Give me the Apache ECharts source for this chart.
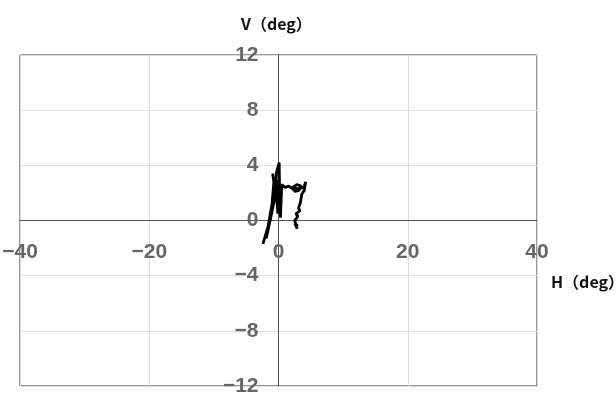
<!DOCTYPE html>
<html><head><meta charset="utf-8">
<script src="https://cdn.jsdelivr.net/npm/echarts@6/dist/echarts.min.js"></script>
<style>html,body{margin:0;padding:0;background:#fff}#c{width:616px;height:394px}</style>
</head><body><div id="c"></div>
<script>
const hValues = [-2.4,-1.6,-1.0,-0.7,-0.9,-0.5,-1.9,-1.2,-0.5,-0.3,0.1,0.2,-0.1,-0.4,-0.8,0.0,0.3,0.5,1.0,1.6,2.2,2.6,3.2,3.5,2.8,2.2,3.0,3.9,4.2,4.0,3.6,3.4,3.1,3.3,2.7,3.0,2.5,2.4,2.9,2.8,2.5,3.0];
const vValues = [-1.7,-0.4,1.2,2.9,3.4,2.0,-1.3,0.2,1.8,3.5,4.2,1.5,0.5,2.6,3.0,2.8,0.2,2.6,2.4,2.5,2.3,2.1,2.2,2.5,2.6,2.4,2.3,2.4,2.8,2.2,1.9,1.3,0.9,0.7,0.5,0.3,0.0,-0.1,-0.6,-0.7,-0.2,-0.4];
const xTicks = {min:-40, max:40, step:20};
const yTicks = {min:-12, max:12, step:4};
const xName = 'H（deg）';
const yName = 'V（deg）';

const pts = hValues.map((h,i)=>[h, vValues[i]]);
const minus = v => (v < 0 ? '\u2212' + Math.abs(v) : String(v));
const labelStyle = {color:'#666', fontSize:21, fontWeight:'bold', fontFamily:'"Liberation Sans Narrow", "Liberation Sans", Arial, sans-serif'};
const nameFont = 'bold 16px "Noto Sans CJK JP", sans-serif';

const chart = echarts.init(document.getElementById('c'), null, {renderer:'canvas'});
const option = {
  animation:false,
  grid:{left:20, right:79, top:55, bottom:8, show:true, borderColor:'#333', borderWidth:1, containLabel:false, outerBoundsMode:'none'},
  xAxis:{type:'value', min:xTicks.min, max:xTicks.max, interval:xTicks.step, position:'bottom', offset:0,
    axisLine:{onZero:false, lineStyle:{color:'#555', width:1}},
    axisTick:{show:false},
    splitLine:{show:true, lineStyle:{color:'#ddd', width:1}},
    axisLabel:Object.assign({formatter:minus, margin:21, showMinLabel:true, showMaxLabel:true, hideOverlap:false}, labelStyle)
  },
  yAxis:{type:'value', min:yTicks.min, max:yTicks.max, interval:yTicks.step, position:'left', offset:0,
    axisLine:{onZero:false, lineStyle:{color:'#555', width:1}},
    axisTick:{show:false},
    splitLine:{show:true, lineStyle:{color:'#ddd', width:1}},
    axisLabel:Object.assign({formatter:minus, margin:20, padding:[3,0,0,0], showMinLabel:true, showMaxLabel:true, hideOverlap:false}, labelStyle)
  },
  graphic:[
    {type:'text', left:241, top:16, style:{text:yName, fill:'#111', font:nameFont}},
    {type:'text', left:551, top:274, style:{text:xName, fill:'#111', font:nameFont}}
  ],
  series:[{type:'line', data:pts, showSymbol:false, smooth:false,
    lineStyle:{color:'#000', width:2.8}, clip:false}]
};
chart.setOption(option);
// move both axes (line + labels) onto the origin of the other axis
const origin = chart.convertToPixel({gridIndex:0}, [0, 0]);
const bottomLeft = chart.convertToPixel({gridIndex:0}, [xTicks.min, yTicks.min]);
chart.setOption({
  xAxis:{offset: -(bottomLeft[1] - origin[1])},
  yAxis:{offset: -(origin[0] - bottomLeft[0])}
});
</script></body></html>
